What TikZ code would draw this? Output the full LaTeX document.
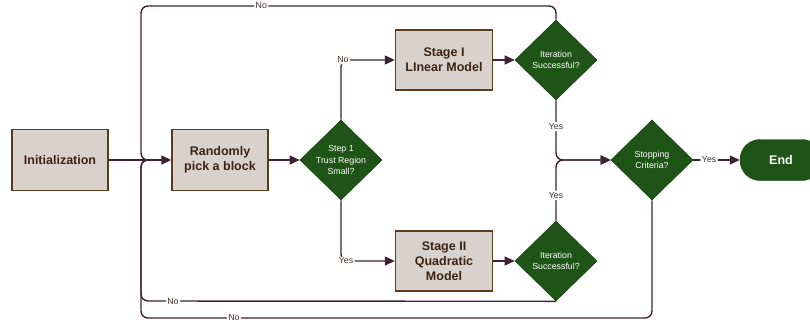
\documentclass[tikz,border=0pt]{standalone}
\usepackage{fontspec}
\setmainfont{Liberation Sans}
\usetikzlibrary{shapes.geometric,arrows.meta}
\definecolor{boxfill}{HTML}{D9D2CC}
\definecolor{boxdraw}{HTML}{5C3B1E}
\definecolor{boxtext}{HTML}{3B2314}
\definecolor{dgreen}{HTML}{1E5416}
\definecolor{dgreenb}{HTML}{174311}
\definecolor{linec}{HTML}{3F2232}
\definecolor{lblc}{HTML}{3F3530}
\tikzset{
  procbox/.style={draw=boxdraw, line width=1.4pt, fill=boxfill, text=boxtext,
    minimum width=96pt, minimum height=61pt, inner sep=2pt, align=center,
    font=\fontsize{12.5}{15}\selectfont\bfseries},
  decis/.style={diamond, fill=dgreen, draw=dgreenb, line width=0.6pt, text=white, inner sep=0pt,
    minimum width=82pt, minimum height=80pt, align=center,
    font=\fontsize{8.8}{11.5}\selectfont},
  termbox/.style={rounded corners=20pt, fill=dgreen, draw=dgreenb, text=white,
    minimum width=82pt, minimum height=41pt, font=\fontsize{12.5}{15}\selectfont\bfseries},
  conn/.style={draw=linec, line width=1.4pt, rounded corners=7pt},
  arr/.style={conn, -{Triangle[length=10pt,width=9pt]}},
  lbl/.style={fill=white, text=lblc, inner sep=1.5pt, font=\fontsize{8.8}{10}\selectfont},
}
\begin{document}
\begin{tikzpicture}[x=1pt,y=-1pt]
\useasboundingbox (0,0) rectangle (810,325);
\node[procbox] (init) at (60,160) {Initialization};
\node[procbox] (rand) at (220,160) {Randomly\\pick a block};
\node[decis] (step1) at (341,160) {Step 1\\Trust Region\\Small?};
\node[procbox, minimum width=97pt, minimum height=60pt] (stage1) at (444,60) {Stage I\\LInear Model};
\node[decis] (iter1) at (556,60) {Iteration\\Successful?};
\node[procbox, minimum width=97pt, minimum height=60pt] (stage2) at (444,261) {Stage II\\Quadratic\\Model};
\node[decis] (iter2) at (556,261) {Iteration\\Successful?};
\node[decis] (stop) at (652,160) {Stopping\\Criteria?};
\node[termbox] (end) at (781,160) {End};

\coordinate (j) at (152,160);
\coordinate (t1) at (556,6);
\coordinate (t2) at (141,6);
\coordinate (b1) at (141,301);
\coordinate (s1) at (652,318);
\coordinate (s2) at (141,318);

% loops back
\draw[conn] (iter1.north) -- (t1) -- node[lbl,pos=0.71]{No} (t2) |- (j);
\draw[conn] (iter2.south) -- node[lbl,pos=0.923]{No} (b1) |- (j);
\draw[conn] (stop.south) -- (s1) -- node[lbl,pos=0.818]{No} (s2) |- (j);

% main flow
\draw[arr] (init) -- (rand);
\draw[arr] (rand) -- (step1);
\draw[arr] (step1.north) |- node[lbl,pos=0.5,xshift=2pt]{No} (stage1.west);
\draw[arr] (step1.south) |- node[lbl,pos=0.5,xshift=5pt]{Yes} (stage2.west);
\draw[arr] (stage1) -- (iter1);
\draw[arr] (stage2) -- (iter2);
\draw[arr] (iter1.south) |- node[lbl,pos=0.22]{Yes} (stop.west);
\draw[arr] (iter2.north) |- node[lbl,pos=0.21]{Yes} (stop.west);
\draw[arr] (stop) -- node[lbl,pos=0.34]{Yes} (end);
\end{tikzpicture}
\end{document}
